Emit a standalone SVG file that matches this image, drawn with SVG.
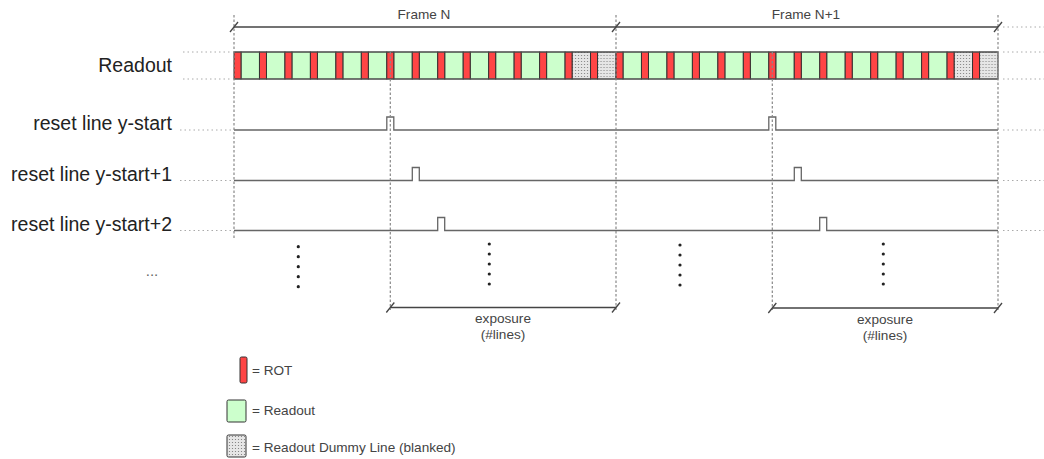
<svg xmlns="http://www.w3.org/2000/svg" xmlns:xlink="http://www.w3.org/1999/xlink" width="1044" height="459" viewBox="0 0 1044 459">
<style>
.lbl{font-family:"Liberation Sans",Arial,sans-serif;font-size:19.5px;fill:#222;text-anchor:end}
.sm{font-family:"Liberation Sans",Arial,sans-serif;font-size:13.6px;fill:#444}
.mid{text-anchor:middle}
.red{fill:#ff4545;stroke:#333;stroke-width:1}
.grn{fill:#ccffcc;stroke:#333;stroke-width:1}
.dum{fill:url(#dots);stroke:#333;stroke-width:1}
.dash{stroke:#888;stroke-width:1.2;fill:none;stroke-dasharray:2.5 2}
.dot{stroke:#aaa;stroke-width:1;fill:none;stroke-dasharray:1.5 3}
.sig{stroke:#666;stroke-width:1.3;fill:none}
.dim{stroke:#444;stroke-width:1.3;fill:none}
.vd{fill:#222}
</style>
<defs>
<pattern id="dots" width="3" height="3" patternUnits="userSpaceOnUse">
<rect width="3" height="3" fill="#e6e6e6"/>
<circle cx="1.5" cy="1.5" r="0.6" fill="#777"/>
</pattern>
<g id="seg"><rect class="grn" x="7" y="52" width="18.47" height="27"/><rect class="red" x="0" y="52" width="7" height="27"/></g>
<g id="dseg"><rect class="dum" x="7" y="52" width="18.47" height="27"/><rect class="red" x="0" y="52" width="7" height="27"/></g>
<path id="tick" d="M-4,5 L4,-5" stroke="#444" stroke-width="1.3"/>
<g id="vdots"><circle class="vd" cx="0" cy="0" r="1.6"/><circle class="vd" cx="0" cy="10" r="1.6"/><circle class="vd" cx="0" cy="20" r="1.6"/><circle class="vd" cx="0" cy="30" r="1.6"/><circle class="vd" cx="0" cy="40" r="1.6"/></g>
</defs>

<g id="labels">
<text class="lbl" x="172" y="72">Readout</text>
<text class="lbl" x="172" y="130">reset line y-start</text>
<text class="lbl" x="172" y="180.5">reset line y-start+1</text>
<text class="lbl" x="172" y="230.5">reset line y-start+2</text>
<text x="152" y="276" style="font-family:'Liberation Sans',Arial,sans-serif;font-size:15px;fill:#666;text-anchor:middle">...</text>
</g>

<g id="guides">
<path class="dot" d="M183,52H232M183,79H232M180,130H232M180,180.5H232M180,230.5H232"/>
<path class="dot" d="M1003,27H1044M1003,52H1044M1003,79H1044M1003,130H1044M1003,180.5H1044M1003,230.5H1044"/>
</g>

<g id="frame-n">
<text class="sm mid" x="424" y="18.5">Frame N</text>
</g>
<g id="frame-n1">
<text class="sm mid" x="806" y="18.5">Frame N+1</text>
</g>

<g id="readout-bar">
<use xlink:href="#seg" x="234"/>
<use xlink:href="#seg" x="259.47"/>
<use xlink:href="#seg" x="284.93"/>
<use xlink:href="#seg" x="310.4"/>
<use xlink:href="#seg" x="335.87"/>
<use xlink:href="#seg" x="361.33"/>
<use xlink:href="#seg" x="386.8"/>
<use xlink:href="#seg" x="412.27"/>
<use xlink:href="#seg" x="437.73"/>
<use xlink:href="#seg" x="463.2"/>
<use xlink:href="#seg" x="488.67"/>
<use xlink:href="#seg" x="514.13"/>
<use xlink:href="#seg" x="539.6"/>
<use xlink:href="#dseg" x="565.07"/>
<use xlink:href="#dseg" x="590.53"/>
<use xlink:href="#seg" x="616"/>
<use xlink:href="#seg" x="641.47"/>
<use xlink:href="#seg" x="666.93"/>
<use xlink:href="#seg" x="692.4"/>
<use xlink:href="#seg" x="717.87"/>
<use xlink:href="#seg" x="743.33"/>
<use xlink:href="#seg" x="768.8"/>
<use xlink:href="#seg" x="794.27"/>
<use xlink:href="#seg" x="819.73"/>
<use xlink:href="#seg" x="845.2"/>
<use xlink:href="#seg" x="870.67"/>
<use xlink:href="#seg" x="896.13"/>
<use xlink:href="#seg" x="921.6"/>
<use xlink:href="#dseg" x="947.07"/>
<use xlink:href="#dseg" x="972.53"/>
<path d="M234,52H998M234,79H998" stroke="#555" stroke-width="1.2"/>
</g>

<g id="reset-lines">
<path class="sig" d="M234,130H386.8V117H393.8V130H768.8V117H775.8V130H998"/>
<path class="sig" d="M234,180.5H412.3V167.5H419.3V180.5H794.3V167.5H801.3V180.5H998"/>
<path class="sig" d="M234,230.5H437.7V217.5H444.7V230.5H819.7V217.5H826.7V230.5H998"/>
</g>

<g id="connectors">
<path class="dash" d="M234,15V240M616,15V310M998,15V310M390.3,52V310M772.3,52V310"/>
<path class="dim" d="M234,27H998"/>
<use xlink:href="#tick" x="234" y="27"/>
<use xlink:href="#tick" x="616" y="27"/>
<use xlink:href="#tick" x="998" y="27"/>
<path class="dim" d="M390.3,307.5H616M772.3,308H998"/>
<use xlink:href="#tick" x="390.3" y="307.5"/>
<use xlink:href="#tick" x="616" y="307.5"/>
<use xlink:href="#tick" x="772.3" y="308"/>
<use xlink:href="#tick" x="998" y="308"/>
</g>

<g id="ellipsis-dots">
<use xlink:href="#vdots" x="298.3" y="246.7"/>
<use xlink:href="#vdots" x="489.3" y="244"/>
<use xlink:href="#vdots" x="680" y="245"/>
<use xlink:href="#vdots" x="883.3" y="244"/>
</g>

<g id="exposure-n">
<text class="sm mid" x="503" y="323">exposure</text>
<text class="sm mid" x="503" y="339">(#lines)</text>
</g>
<g id="exposure-n1">
<text class="sm mid" x="885" y="323.5">exposure</text>
<text class="sm mid" x="885" y="339.5">(#lines)</text>
</g>

<g id="legend">
<rect class="red" x="240" y="357" width="7" height="26" rx="1.5"/>
<text class="sm" x="252" y="374.5">= ROT</text>
<rect class="grn" x="227" y="400" width="19" height="22" rx="1.5"/>
<text class="sm" x="252" y="414.5">= Readout</text>
<rect class="dum" x="227" y="435" width="19" height="22" rx="1.5"/>
<text class="sm" x="252" y="451.5">= Readout Dummy Line (blanked)</text>
</g>
</svg>
